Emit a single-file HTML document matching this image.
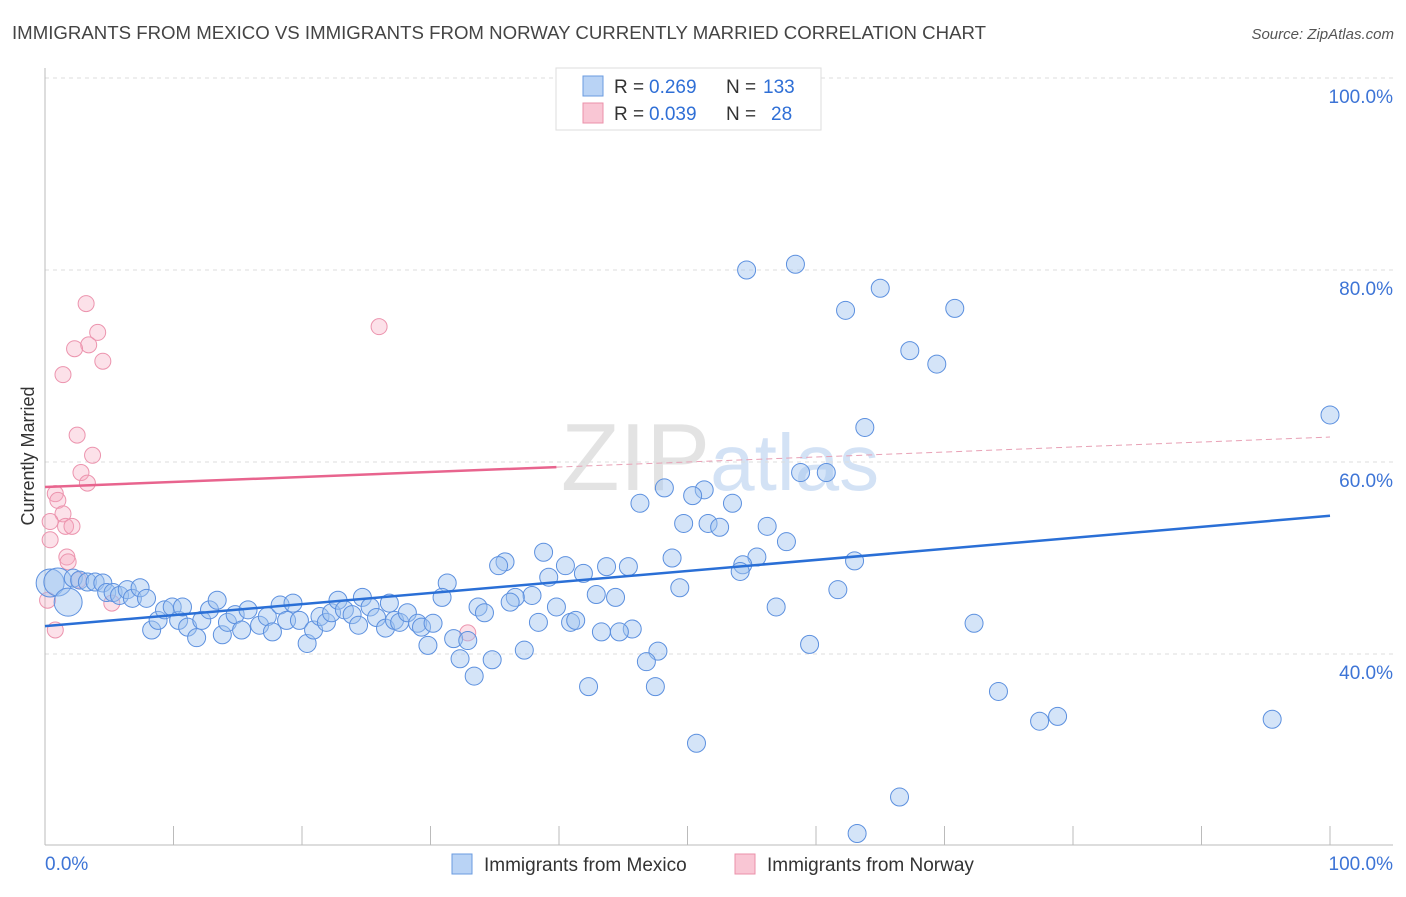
<!DOCTYPE html>
<html><head><meta charset="utf-8"><style>
body{margin:0;background:#fff;font-family:"Liberation Sans",sans-serif}
svg text{font-family:"Liberation Sans",sans-serif}
</style></head><body>
<svg id="chart" width="1406" height="892" viewBox="0 0 1406 892" xmlns="http://www.w3.org/2000/svg">
<text x="12" y="39" font-size="18" fill="#444" textLength="974" lengthAdjust="spacingAndGlyphs">IMMIGRANTS FROM MEXICO VS IMMIGRANTS FROM NORWAY CURRENTLY MARRIED CORRELATION CHART</text>
<text x="1394" y="39" font-size="15" fill="#555" text-anchor="end" font-style="italic">Source: ZipAtlas.com</text>
<text x="720" y="490" font-size="96" text-anchor="middle" font-family="Liberation Serif" fill="#ddd" opacity="0.8">ZIP<tspan fill="#c9dbf3" font-family="Liberation Sans" font-size="80">atlas</tspan></text>
<g id="grid"></g>
<g id="axes"></g>
<g id="pts"></g>
<g id="trend"></g>
<text transform="translate(34,456) rotate(-90)" font-size="18" fill="#333" text-anchor="middle">Currently Married</text>
<g>
<rect x="556" y="68" width="265" height="62" fill="#fff" stroke="#ddd"/>
<rect x="583" y="76" width="20" height="20" fill="#b9d3f5" stroke="#6a9be0"/>
<rect x="583" y="103" width="20" height="20" fill="#f9c6d4" stroke="#eb90aa"/>
<text x="614" y="93" font-size="19" fill="#333">R =</text>
<text x="649" y="93" font-size="19" fill="#2f6fd6">0.269</text>
<text x="726" y="93" font-size="19" fill="#333">N =</text>
<text x="763" y="93" font-size="19" fill="#2f6fd6">133</text>
<text x="614" y="120" font-size="19" fill="#333">R =</text>
<text x="649" y="120" font-size="19" fill="#2f6fd6">0.039</text>
<text x="726" y="120" font-size="19" fill="#333">N =</text>
<text x="771" y="120" font-size="19" fill="#2f6fd6">28</text>
</g>
<g>
<rect x="452" y="854" width="20" height="20" fill="#b9d3f5" stroke="#6a9be0"/>
<text x="484" y="871" font-size="19" fill="#333">Immigrants from Mexico</text>
<rect x="735" y="854" width="20" height="20" fill="#f9c6d4" stroke="#eb90aa"/>
<text x="767" y="871" font-size="19" fill="#333">Immigrants from Norway</text>
</g>
</svg>
<script>
const blueX=[54.6,58.4,65.0,62.3,70.8,67.3,69.4,100,63.8,58.8,60.8,48.2,51.3,50.4,46.3,53.5,49.7,51.6,52.5,56.2,57.7,38.8,48.8,55.4,35.8,35.3,40.5,43.7,45.4,54.3,63.0,54.1,39.2,41.9,31.3,49.4,61.7,37.9,30.9,42.9,44.4,36.6,36.2,33.7,39.8,56.9,34.2,38.4,40.9,41.3,72.3,43.3,45.7,44.7,31.8,32.9,59.5,47.7,37.3,32.3,34.8,46.8,33.4,42.3,47.5,74.2,77.4,78.8,95.5,50.7,66.5,63.2,
0.4,1.0,1.8,2.2,2.7,3.3,3.9,4.5,4.8,5.3,5.8,6.4,6.8,7.4,7.9,8.3,8.8,9.3,9.9,10.4,10.7,11.1,11.8,12.2,12.8,13.4,13.8,14.2,14.8,15.3,15.8,16.7,17.3,17.7,18.3,18.8,19.3,19.8,20.4,20.9,21.4,21.9,22.3,22.8,23.3,23.9,24.4,24.7,25.3,25.8,26.5,26.8,27.2,27.6,28.2,29.0,29.3,29.8,30.2];
const blueY=[80.0,80.6,78.1,75.8,76.0,71.6,70.2,64.9,63.6,58.9,58.9,57.3,57.1,56.5,55.7,55.7,53.6,53.6,53.2,53.3,51.7,50.6,50.0,50.1,49.6,49.2,49.2,49.1,49.1,49.3,49.7,48.6,48.0,48.4,47.4,46.9,46.7,46.1,45.9,46.2,45.9,45.9,45.4,44.9,44.9,44.9,44.3,43.3,43.3,43.5,43.2,42.3,42.6,42.3,41.6,41.4,41.0,40.3,40.4,39.5,39.4,39.2,37.7,36.6,36.6,36.1,33.0,33.5,33.2,30.7,25.1,21.3,
47.4,47.5,45.4,47.9,47.7,47.5,47.5,47.4,46.4,46.4,46.1,46.7,45.8,46.9,45.8,42.5,43.5,44.6,44.9,43.5,44.9,42.8,41.7,43.5,44.6,45.6,42.0,43.3,44.1,42.5,44.6,43.0,43.9,42.3,45.1,43.5,45.3,43.5,41.1,42.5,43.9,43.3,44.3,45.6,44.6,44.1,43.0,45.9,44.9,43.8,42.7,45.3,43.5,43.3,44.3,43.2,42.8,40.9,43.2];
const pinkX=[3.2,4.1,3.4,2.3,4.5,1.4,26.0,2.5,3.7,2.8,3.3,0.8,1.0,1.4,1.6,2.1,0.4,0.4,1.7,1.8,0.2,0.8,5.2,2.6,32.9];
const pinkY=[76.5,73.5,72.2,71.8,70.5,69.1,74.1,62.8,60.7,58.9,57.8,56.7,56.0,54.6,53.3,53.3,53.8,51.9,50.1,49.6,45.6,42.5,45.3,47.7,42.2];
const blueTrend=[42.9,54.4];
const pinkTrend=[57.4,62.6];
const yTicks=[100,80,60,40];
const xTickLabels=["0.0%","100.0%"];
const NS="http://www.w3.org/2000/svg";
const X=v=>45+v*12.85, Y=v=>1038-v*9.6;
function mk(t,a,p){const e=document.createElementNS(NS,t);for(const k in a)e.setAttribute(k,a[k]);p.appendChild(e);return e;}
const grid=document.getElementById('grid'),axes=document.getElementById('axes'),pts=document.getElementById('pts'),tr=document.getElementById('trend');
yTicks.forEach(v=>{
 const l=mk('line',{x1:45,x2:1393,y1:Y(v),y2:Y(v),stroke:'#ddd','stroke-dasharray':'4 4'},grid);
 
 
 const t=mk('text',{x:1393,y:Y(v)+25,'font-size':19,fill:'#3d74d6','text-anchor':'end'},grid);
 t.textContent=v.toFixed(1)+'%';
 
 
});
const ya=mk('line',{x1:45,x2:45,y1:68,y2:845,stroke:'#bbb'},axes);


const xa=mk('line',{x1:45,x2:1393,y1:845,y2:845,stroke:'#bbb'},axes);


for(let i=0;i<=10;i++){const tk=mk('line',{x1:X(i*10),x2:X(i*10),y1:826,y2:845,stroke:'#bbb'},axes);
 
 }
[[0,'start',45],[1,'end',1393]].forEach(([i,a,x])=>{const t=mk('text',{x:x,y:870,'font-size':19,fill:'#3d74d6','text-anchor':a},axes);t.textContent=xTickLabels[i];
 
 });
pinkX.forEach((v,i)=>{const c=mk('circle',{cx:X(v),cy:Y(pinkY[i]),r:8,fill:'rgba(247,170,192,0.35)',stroke:'#ec94ae','stroke-width':1},pts);
 
 });
blueX.forEach((v,i)=>{const big=(i>=72&&i<=74);const c=mk('circle',{cx:X(v),cy:Y(blueY[i]),r:big?14:9,fill:'rgba(160,196,240,0.45)',stroke:'#5c90df','stroke-width':1},pts);
 
 });
const bl=mk('line',{x1:X(0),y1:Y(blueTrend[0]),x2:X(100),y2:Y(blueTrend[1]),stroke:'#2a6fd6','stroke-width':2.5},tr);


const cut=39.8,py=x=>pinkTrend[0]+(pinkTrend[1]-pinkTrend[0])*x/100;
const p1=mk('line',{x1:X(0),y1:Y(py(0)),x2:X(cut),y2:Y(py(cut)),stroke:'#e8648e','stroke-width':2.5},tr);


const p2=mk('line',{x1:X(cut),y1:Y(py(cut)),x2:X(100),y2:Y(py(100)),stroke:'#e8a0b5','stroke-width':1,'stroke-dasharray':'6 4'},tr);


</script>
</body></html>
